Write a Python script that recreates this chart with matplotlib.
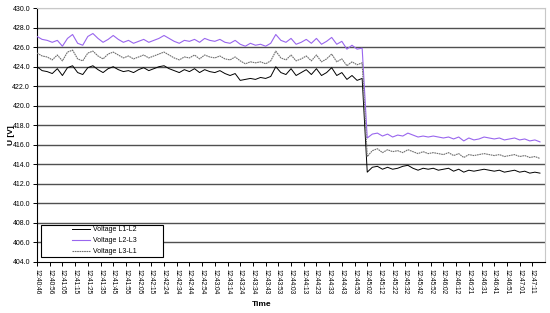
import numpy as np
import matplotlib
matplotlib.use('Agg')
import matplotlib.pyplot as plt
from matplotlib.patches import Rectangle

# sample times (one point every 4 s of the logger, 100 points)
step = 4
tick_labels = ['12:40:46', '12:40:56', '12:41:05', '12:41:15', '12:41:25', '12:41:35',
               '12:41:45', '12:41:55', '12:42:05', '12:42:15', '12:42:24', '12:42:34',
               '12:42:44', '12:42:54', '12:43:04', '12:43:14', '12:43:24', '12:43:34',
               '12:43:43', '12:43:53', '12:44:03', '12:44:13', '12:44:23', '12:44:33',
               '12:44:43', '12:44:53', '12:45:02', '12:45:12', '12:45:22', '12:45:32',
               '12:45:42', '12:45:52', '12:46:02', '12:46:12', '12:46:21', '12:46:31',
               '12:46:41', '12:46:51', '12:47:01', '12:47:11']

v_l1_l2 = [424.0, 423.6, 423.5, 423.3, 423.8, 423.1, 423.9, 424.1, 423.4, 423.2,
           423.9, 424.1, 423.7, 423.4, 423.8, 424.0, 423.7, 423.5, 423.6, 423.4,
           423.7, 423.9, 423.6, 423.8, 424.0, 424.1, 423.8, 423.6, 423.4, 423.7,
           423.5, 423.8, 423.4, 423.7, 423.5, 423.4, 423.6, 423.3, 423.1, 423.3,
           422.6, 422.7, 422.8, 422.7, 422.9, 422.8, 423.0, 424.0, 423.4, 423.2,
           423.8, 423.1, 423.4, 423.7, 423.2, 423.8, 423.1, 423.4, 423.9, 423.1,
           423.4, 422.7, 423.1, 422.6, 422.8,
           413.2, 413.7, 413.8, 413.5, 413.7, 413.5, 413.6, 413.8, 413.9, 413.6,
           413.4, 413.6, 413.5, 413.6, 413.4, 413.5, 413.6, 413.3, 413.5, 413.2,
           413.4, 413.3, 413.4, 413.5, 413.4, 413.3, 413.4, 413.2, 413.3, 413.4,
           413.2, 413.3, 413.1, 413.2, 413.1]

v_l2_l3 = [427.1, 426.8, 426.7, 426.5, 426.7, 426.1, 426.9, 427.3, 426.4, 426.2,
           427.1, 427.4, 426.9, 426.5, 426.8, 427.2, 426.8, 426.5, 426.7, 426.4,
           426.6, 426.8, 426.5, 426.7, 426.9, 427.2, 426.9, 426.6, 426.4, 426.7,
           426.6, 426.8, 426.5, 426.9, 426.7, 426.6, 426.8, 426.5, 426.4, 426.7,
           426.3, 426.1, 426.4, 426.2, 426.3, 426.1, 426.4, 427.3, 426.7, 426.5,
           426.9, 426.3, 426.5, 426.8, 426.4, 426.9, 426.3, 426.6, 427.0, 426.3,
           426.6, 425.8, 426.2, 425.8, 425.9,
           416.7, 417.1, 417.2, 416.9, 417.1, 416.8, 417.0, 416.9, 417.2, 417.0,
           416.8, 416.9, 416.8, 416.9, 416.8, 416.7, 416.8, 416.6, 416.8, 416.4,
           416.7, 416.5, 416.6, 416.8, 416.7, 416.6, 416.7, 416.5, 416.6, 416.7,
           416.5, 416.6, 416.4, 416.5, 416.3]

v_l3_l1 = [425.4, 425.1, 425.0, 424.7, 425.2, 424.6, 425.5, 425.7, 424.8, 424.6,
           425.4, 425.6, 425.1, 424.8, 425.3, 425.5, 425.2, 424.9, 425.1, 424.8,
           425.0, 425.2, 424.9, 425.1, 425.3, 425.5, 425.2, 424.9, 424.7, 425.0,
           424.9, 425.2, 424.8, 425.2, 425.0, 424.9, 425.1, 424.8, 424.7, 425.0,
           424.6, 424.3, 424.5, 424.4, 424.5, 424.3, 424.6, 425.6, 424.9, 424.7,
           425.2, 424.6, 424.8, 425.1, 424.6, 425.2, 424.5, 424.8, 425.3, 424.5,
           424.8, 424.1, 424.5, 424.2, 424.4,
           414.8, 415.4, 415.6, 415.2, 415.5, 415.3, 415.4, 415.2, 415.5, 415.3,
           415.1, 415.3, 415.1, 415.2, 415.1, 415.0, 415.2, 414.9, 415.1, 414.7,
           415.0, 414.9, 415.0, 415.1, 415.0, 414.9, 415.0, 414.8, 414.9, 415.0,
           414.8, 414.9, 414.7, 414.8, 414.6]

x = np.arange(len(v_l1_l2)) * step

plt.rcParams['font.family'] = ['Liberation Sans', 'DejaVu Sans']

fig = plt.figure(figsize=(5.5, 3.13), dpi=100, facecolor='white')
ax = fig.add_axes([0.0673, 0.163, 0.9237, 0.811])

for yv in np.arange(406, 430, 2):
    ax.axhline(yv, color='#505050', lw=1.0, zorder=1)
ax.axhline(430, color='#c8c8c8', lw=1.0, zorder=1)

l1, = ax.plot(x, v_l1_l2, color='black', lw=0.7, zorder=3)
l2, = ax.plot(x, v_l2_l3, color='#9966ee', lw=0.8, zorder=3)
l3, = ax.plot(x, v_l3_l1, color='#707070', lw=0.8, ls=(0, (1.5, 0.6)), zorder=3)

ax.set_xlim(0, 400)
ax.set_ylim(404, 430)
ax.set_yticks(np.arange(404, 431, 2))
ax.set_yticklabels([f'{v:.1f}' for v in np.arange(404, 431, 2)], fontsize=5)
ax.set_xticks(np.arange(len(tick_labels)) * 10)
ax.set_xticklabels(tick_labels, rotation=270, fontsize=4.7, va='top', ha='center')
ax.tick_params(axis='both', length=3, width=0.7, pad=2, colors='black')

for s in ['top', 'right']:
    ax.spines[s].set_color('#c8c8c8')
for s in ['left', 'bottom']:
    ax.spines[s].set_color('black')
    ax.spines[s].set_linewidth(0.8)

ax.set_ylabel('U [V]', fontsize=6, fontweight='bold')
ax.yaxis.set_label_coords(-0.044, 0.5)
fig.text(0.476, 1 - 305 / 313, 'Time', fontsize=6, fontweight='bold', ha='center', va='center')

fig.patches.append(Rectangle((41 / 550, 1 - 257 / 313), 122 / 550, 32 / 313,
                             transform=fig.transFigure, fill=True, facecolor='white',
                             edgecolor='black', lw=0.8, zorder=5))
leg = fig.legend([l1, l2, l3], ['Voltage L1-L2', 'Voltage L2-L3', 'Voltage L3-L1'],
                 loc='lower left', bbox_to_anchor=(72 / 550, 1 - 255 / 313),
                 fontsize=5, frameon=False, handlelength=2.6, handletextpad=0.45,
                 labelspacing=0.55, borderpad=0, borderaxespad=0)

fig.savefig('out.png', dpi=100, facecolor='white')
